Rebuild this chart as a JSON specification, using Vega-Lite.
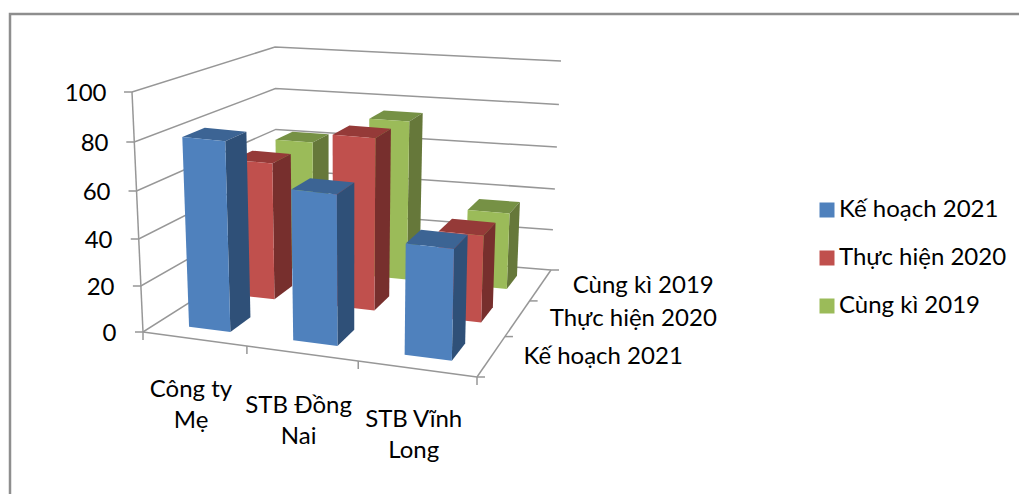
{
  "$schema": "https://vega.github.io/schema/vega-lite/v6.json",
  "width": 1013,
  "height": 484,
  "autosize": {"type": "none"},
  "padding": {"left": 10, "top": 14, "right": -4, "bottom": -4},
  "background": "#ffffff",
  "view": {"stroke": "#8e8e8e", "strokeWidth": 2.5, "fill": "#ffffff"},
  "config": {"font": "Lato", "text": {"font": "Lato"}},
  "data": {"values": [
    {"kind": "grid", "value": 0},
    {"kind": "grid", "value": 20},
    {"kind": "grid", "value": 40},
    {"kind": "grid", "value": 60},
    {"kind": "grid", "value": 80},
    {"kind": "grid", "value": 100},
    {"kind": "edge", "name": "left"},
    {"kind": "edge", "name": "front"},
    {"kind": "edge", "name": "right"},
    {"kind": "uTick", "t": 0},
    {"kind": "uTick", "t": 1},
    {"kind": "uTick", "t": 2},
    {"kind": "uTick", "t": 3},
    {"kind": "vTick", "t": 0},
    {"kind": "vTick", "t": 1},
    {"kind": "vTick", "t": 2},
    {"kind": "vTick", "t": 3},
    {"kind": "bar", "company": "Công ty Mẹ", "series": "Cùng kì 2019", "value": 62},
    {"kind": "bar", "company": "STB Đồng Nai", "series": "Cùng kì 2019", "value": 75},
    {"kind": "bar", "company": "STB Vĩnh Long", "series": "Cùng kì 2019", "value": 36},
    {"kind": "bar", "company": "Công ty Mẹ", "series": "Thực hiện 2020", "value": 62},
    {"kind": "bar", "company": "STB Đồng Nai", "series": "Thực hiện 2020", "value": 77},
    {"kind": "bar", "company": "STB Vĩnh Long", "series": "Thực hiện 2020", "value": 39},
    {"kind": "bar", "company": "Công ty Mẹ", "series": "Kế hoạch 2021", "value": 81},
    {"kind": "bar", "company": "STB Đồng Nai", "series": "Kế hoạch 2021", "value": 64},
    {"kind": "bar", "company": "STB Vĩnh Long", "series": "Kế hoạch 2021", "value": 47},
    {"kind": "companyLabel", "company": "Công ty Mẹ", "label": "Công ty\nMẹ"},
    {"kind": "companyLabel", "company": "STB Đồng Nai", "label": "STB Đồng\nNai"},
    {"kind": "companyLabel", "company": "STB Vĩnh Long", "label": "STB Vĩnh\nLong"},
    {"kind": "seriesLabel", "series": "Kế hoạch 2021", "label": "Kế hoạch 2021"},
    {"kind": "seriesLabel", "series": "Thực hiện 2020", "label": "Thực hiện 2020"},
    {"kind": "seriesLabel", "series": "Cùng kì 2019", "label": "Cùng kì 2019"}
  ]},
  "transform": [
    {"calculate": "indexof(['Công ty Mẹ','STB Đồng Nai','STB Vĩnh Long'], datum.company)", "as": "ui"},
    {"calculate": "indexof(['Kế hoạch 2021','Thực hiện 2020','Cùng kì 2019'], datum.series)", "as": "vi"},
    {"calculate": "datum.kind === 'bar' ? ['top','side','front'] : ['line']", "as": "face"},
    {"flatten": ["face"]},
    {"calculate": "datum.ui + 0.315", "as": "u0"},
    {"calculate": "datum.ui + 0.72", "as": "u1"},
    {"calculate": "datum.vi + 0.28", "as": "v0"},
    {"calculate": "datum.vi + 0.72", "as": "v1"},
    {"calculate": "datum.face === 'front' ? [[datum.u0,datum.v0,0,0,0],[datum.u1,datum.v0,0,0,0],[datum.u1,datum.v0,datum.value,0,0],[datum.u0,datum.v0,datum.value,0,0]] : datum.face === 'side' ? [[datum.u1,datum.v0,0,0,0],[datum.u1,datum.v1,0,0,0],[datum.u1,datum.v1,datum.value,0,0],[datum.u1,datum.v0,datum.value,0,0]] : datum.face === 'top' ? [[datum.u0,datum.v0,datum.value,0,0],[datum.u1,datum.v0,datum.value,0,0],[datum.u1,datum.v1,datum.value,0,0],[datum.u0,datum.v1,datum.value,0,0]] : datum.kind === 'grid' ? [[0,0,datum.value,-8,0],[0,0,datum.value,0,0],[0,3,datum.value,0,0],[3,3,datum.value,0,0]] : datum.kind === 'edge' ? (datum.name === 'left' ? [[0,0,0,0,0],[0,0,100,0,0]] : datum.name === 'front' ? [[0,0,0,0,0],[3,0,0,0,0]] : [[3,0,0,0,0],[3,3,0,0,0]]) : datum.kind === 'uTick' ? [[datum.t,0,0,0,0],[datum.t,0,0,0,8]] : datum.kind === 'vTick' ? [[3,datum.t,0,0,0],[3,datum.t,0,8,0]] : datum.kind === 'companyLabel' ? [[datum.ui+0.5,0,0,-3,datum.ui === 1 ? 41 : 39]] : [[3,datum.vi+0.5,0,32,1]]", "as": "pts"},
    {"calculate": "sequence(0, length(datum.pts))", "as": "seq"},
    {"flatten": ["pts", "seq"], "as": ["pt", "seq"]},
    {"calculate": "datum.pt[0] / 3", "as": "a0"},
    {"calculate": "datum.a0 - 0.1 * datum.a0 * (1 - datum.a0)", "as": "a"},
    {"calculate": "datum.pt[1] / 3", "as": "b0"},
    {"calculate": "datum.b0 + 0.2 * datum.b0 * (1 - datum.b0)", "as": "b"},
    {"calculate": "datum.pt[2] / 100", "as": "c0"},
    {"calculate": "datum.c0 - 0.05 * datum.c0 * (1 - datum.c0)", "as": "c"},
    {"calculate": "143*(1-datum.a)*(1-datum.b) + 477*datum.a*(1-datum.b) + 551*datum.a*datum.b + 277*(1-datum.a)*datum.b", "as": "bx"},
    {"calculate": "132*(1-datum.a)*(1-datum.b) + 483*datum.a*(1-datum.b) + 561*datum.a*datum.b + 275*(1-datum.a)*datum.b", "as": "tx"},
    {"calculate": "332*(1-datum.a)*(1-datum.b) + 377*datum.a*(1-datum.b) + 270*datum.a*datum.b + 247*(1-datum.a)*datum.b", "as": "by"},
    {"calculate": "92*(1-datum.a)*(1-datum.b) + 127*datum.a*(1-datum.b) + 61*datum.a*datum.b + 47*(1-datum.a)*datum.b", "as": "ty"},
    {"calculate": "datum.bx + (datum.tx - datum.bx) * datum.c + datum.pt[3]", "as": "sx"},
    {"calculate": "(332 - (datum.by + (datum.ty - datum.by) * datum.c + datum.pt[4])) / 2.4", "as": "sy"},
    {"calculate": "datum.kind + '|' + datum.company + '|' + datum.series + '|' + datum.face + '|' + datum.value + '|' + datum.name + '|' + datum.t", "as": "shape"},
    {"calculate": "datum.face === 'front' ? datum.series : datum.series + ' ' + datum.face", "as": "tone"}
  ],
  "encoding": {
    "x": {"field": "sx", "type": "quantitative", "scale": {"domain": [10, 1023], "nice": false, "zero": false}, "axis": null},
    "y": {"field": "sy", "type": "quantitative", "scale": {"domain": [-69.1667, 132.5], "nice": false, "zero": false},
      "axis": {"title": null, "values": [0, 20, 40, 60, 80, 100], "grid": false, "domain": false, "ticks": false, "tickSize": 0, "offset": -106, "labelPadding": 0, "labelFont": "Lato", "labelFontSize": 24, "labelColor": "#000000",
        "encoding": {"labels": {"dx": {"value": {"signal": "-datum.value * 0.1"}}, "dy": {"value": {"signal": "2 + datum.value * (100 - datum.value) * 0.0012"}}}}}}
  },
  "layer": [
    {
      "transform": [{"filter": "datum.kind === 'grid' || datum.kind === 'edge' || datum.kind === 'uTick' || datum.kind === 'vTick'"}],
      "mark": {"type": "line", "stroke": "#979797", "strokeWidth": 1.5},
      "encoding": {"detail": {"field": "shape"}, "order": {"field": "seq", "type": "quantitative"}}
    },
    {
      "transform": [{"filter": "datum.kind === 'bar'"}],
      "mark": {"type": "line", "strokeWidth": 0},
      "encoding": {
        "detail": {"field": "shape"},
        "order": {"field": "seq", "type": "quantitative"},
        "fill": {"field": "tone", "type": "nominal",
          "scale": {
            "domain": ["Kế hoạch 2021", "Thực hiện 2020", "Cùng kì 2019", "Kế hoạch 2021 side", "Kế hoạch 2021 top", "Thực hiện 2020 side", "Thực hiện 2020 top", "Cùng kì 2019 side", "Cùng kì 2019 top"],
            "range": ["#4f81bd", "#c0504d", "#9bbb59", "#2f5078", "#3c6494", "#772f2d", "#953a38", "#66783a", "#769145"]
          },
          "legend": {"title": null, "values": ["Kế hoạch 2021", "Thực hiện 2020", "Cùng kì 2019"], "orient": "none", "legendX": 805, "legendY": 183, "symbolType": "square", "symbolSize": 225, "symbolStrokeWidth": 0, "labelFont": "Lato", "labelFontSize": 24, "labelColor": "#000000", "labelOffset": 0, "rowPadding": 22, "clipHeight": 26, "labelLimit": 250}
        }
      }
    },
    {
      "transform": [{"filter": "datum.kind === 'companyLabel'"}],
      "mark": {"type": "text", "align": "center", "baseline": "top", "fontSize": 24, "lineHeight": 31, "lineBreak": "\n", "color": "#000000", "font": "Lato"},
      "encoding": {"text": {"field": "label"}}
    },
    {
      "transform": [{"filter": "datum.kind === 'seriesLabel'"}],
      "mark": {"type": "text", "align": "left", "baseline": "middle", "fontSize": 24, "color": "#000000", "font": "Lato"},
      "encoding": {"text": {"field": "label"}}
    }
  ]
}
